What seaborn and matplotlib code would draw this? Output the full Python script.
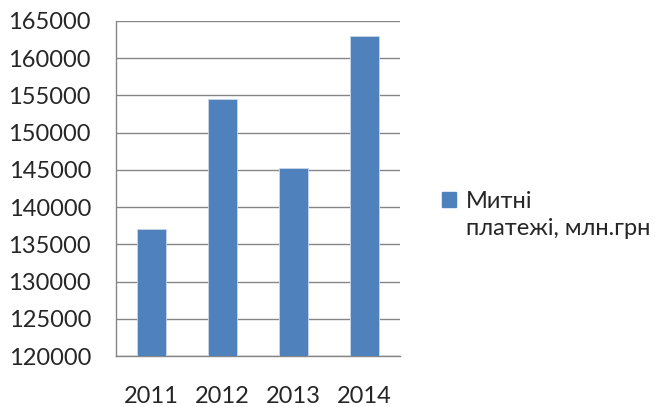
import matplotlib
matplotlib.use("Agg")
import matplotlib.pyplot as plt
import seaborn as sns
import pandas as pd
from matplotlib.patches import Patch, Rectangle
from matplotlib.legend_handler import HandlerPatch

# Chart data
years = ["2011", "2012", "2013", "2014"]
payments = [137100, 154500, 145200, 163000]
series_label = "Митні\nплатежі, млн.грн"
y_ticks = list(range(120000, 165001, 5000))

df = pd.DataFrame({"year": years, "value": payments})

sns.set_style("white")
plt.rcParams["font.family"] = ["Lato", "DejaVu Sans"]

bar_color = "#4F81BD"
grid_color = "#868686"

fig = plt.figure(figsize=(6.55, 4.07), dpi=100)
ax = fig.add_axes([0.177, 0.125, 0.434, 0.824])

sns.barplot(data=df, x="year", y="value", color=bar_color, width=0.4,
            saturation=1, edgecolor="#c9d6ea", linewidth=0.6, ax=ax, zorder=3)

ax.set_ylim(y_ticks[0], y_ticks[-1])
ax.set_xlim(-0.5, len(years) - 0.5)
ax.set_yticks(y_ticks)
ax.set_yticklabels([str(v) for v in y_ticks])
ax.yaxis.grid(True, color=grid_color, linewidth=1.0, zorder=0)
ax.set_axisbelow(True)

# category boundary ticks on x axis
ax.set_xticks([i - 0.5 for i in range(len(years) + 1)], minor=True)
ax.tick_params(axis="x", which="minor", length=6, width=1, color=grid_color, direction="out")
ax.tick_params(axis="x", which="major", length=0, pad=21.5, labelsize=17)
ax.tick_params(axis="y", length=6, width=1, color=grid_color, direction="out", pad=12, labelsize=17)

for side in ["top", "right"]:
    ax.spines[side].set_visible(False)
for side in ["left", "bottom"]:
    ax.spines[side].set_color(grid_color)
    ax.spines[side].set_linewidth(1.0)

ax.set_xlabel("")
ax.set_ylabel("")


# legend square sits next to the first line of the two-line label
def top_square(legend, orig_handle, xdescent, ydescent, width, height, fontsize):
    return Rectangle((-xdescent, -ydescent + 0.68 * fontsize), width, height)


handle = Patch(facecolor=bar_color, edgecolor=bar_color)
leg = fig.legend([handle], [series_label], loc="upper left", bbox_to_anchor=(0.675, 0.53),
                 frameon=False, fontsize=17, handlelength=0.6, handleheight=0.6,
                 handletextpad=0.4, borderpad=0, borderaxespad=0, labelspacing=0,
                 handler_map={Patch: HandlerPatch(patch_func=top_square)})
leg.get_texts()[0].set_linespacing(1.35)

fig.savefig("out.png", dpi=100)
